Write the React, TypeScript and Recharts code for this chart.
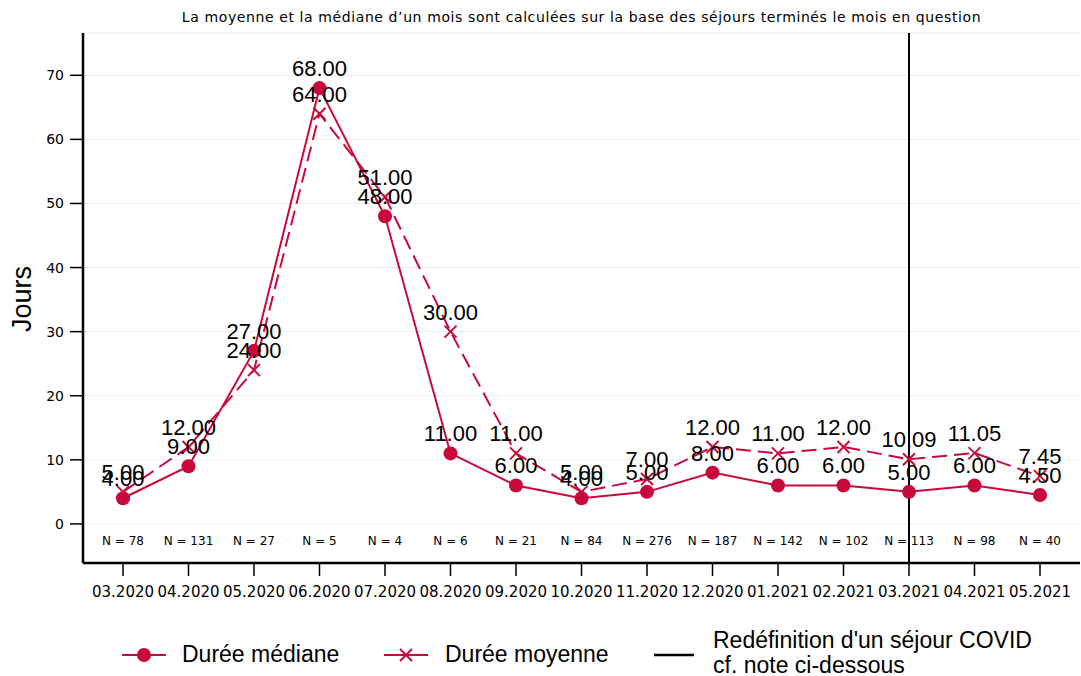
import React from "react";
import {
  LineChart,
  Line,
  XAxis,
  YAxis,
  CartesianGrid,
  ReferenceLine,
  LabelList,
} from "recharts";

const months = [
  "03.2020", "04.2020", "05.2020", "06.2020", "07.2020", "08.2020", "09.2020", "10.2020",
  "11.2020", "12.2020", "01.2021", "02.2021", "03.2021", "04.2021", "05.2021",
];
const medianDays = [4, 9, 27, 68, 48, 11, 6, 4, 5, 8, 6, 6, 5, 6, 4.5];
const meanDays = [5, 12, 24, 64, 51, 30, 11, 5, 7, 12, 11, 12, 10.09, 11.05, 7.45];
const counts = [78, 131, 27, 5, 4, 6, 21, 84, 276, 187, 142, 102, 113, 98, 40];
const yTicks = [0, 10, 20, 30, 40, 50, 60, 70];
const covidMonth = "03.2021";

const RED = "#c8093b";
const FONT = "Liberation Sans, Arial, sans-serif";
const SMALL = "DejaVu Sans, sans-serif";

const data = months.map((m, i) => ({
  month: m,
  median: medianDays[i],
  mean: meanDays[i],
  n: counts[i],
}));

// x-axis tick: month below the axis, sample size inside the plot
const MonthTick = (props: any) => {
  const { x, y, payload, index } = props;
  return (
    <g>
      <text x={x} y={y + 17} textAnchor="middle" fontSize={15} fill="#000" fontFamily={SMALL}>
        {payload.value}
      </text>
      <text x={x} y={y - 35} textAnchor="middle" fontSize={12} fill="#000" fontFamily={SMALL}>
        {`N = ${counts[index]}`}
      </text>
    </g>
  );
};

const CrossDot = (props: any) => {
  const { cx, cy } = props;
  if (cx == null || cy == null) return null;
  const s = 6;
  return (
    <g stroke={RED} strokeWidth={2}>
      <line x1={cx - s} y1={cy - s} x2={cx + s} y2={cy + s} />
      <line x1={cx - s} y1={cy + s} x2={cx + s} y2={cy - s} />
    </g>
  );
};

const fmt = (v: any) => Number(v).toFixed(2);

export default function App() {
  return (
    <div style={{ position: "relative", width: 1081, height: 676, background: "#fff", fontFamily: FONT }}>
      <style>{`body{margin:0}`}</style>
      <div
        style={{
          position: "absolute",
          top: 9,
          left: 83,
          width: 997,
          textAlign: "center",
          fontSize: 14,
          letterSpacing: 0.6,
          fontFamily: SMALL,
          color: "#000",
          whiteSpace: "nowrap",
        }}
      >
        La moyenne et la médiane d’un mois sont calculées sur la base des séjours terminés le mois en question
      </div>
      <LineChart
        width={1081}
        height={676}
        data={data}
        margin={{ top: 33, right: 1, left: 0, bottom: 83 }}
      >
        <CartesianGrid vertical={false} stroke="#ececec" strokeWidth={1} />
        <XAxis
          dataKey="month"
          type="category"
          padding={{ left: 40, right: 40 }}
          axisLine={{ stroke: "#000", strokeWidth: 2.5 }}
          tickLine={{ stroke: "#000", strokeWidth: 1.5 }}
          tickSize={13}
          tickMargin={4}
          height={30}
          interval={0}
          tick={<MonthTick />}
        />
        <XAxis
          xAxisId="top"
          orientation="top"
          dataKey="month"
          height={0}
          tick={false}
          tickLine={false}
          axisLine={{ stroke: "#000", strokeWidth: 1.5 }}
        />
        <YAxis
          domain={[-6.1, 76.6]}
          ticks={yTicks}
          allowDataOverflow
          width={83}
          axisLine={{ stroke: "#000", strokeWidth: 2.5 }}
          tickLine={{ stroke: "#000", strokeWidth: 1.5 }}
          tickSize={13}
          tickMargin={6}
          tick={{ fontSize: 14, fill: "#000", fontFamily: SMALL }}
          label={{
            content: (p: any) => {
              const vb = p.viewBox;
              const cx = 31;
              const cy = 299;
              return (
                <text
                  x={cx}
                  y={cy}
                  transform={`rotate(-90 ${cx} ${cy})`}
                  textAnchor="middle"
                  fontSize={27}
                  fill="#000"
                  fontFamily={FONT}
                >
                  Jours
                </text>
              );
            },
          }}
        />
        <YAxis
          yAxisId="right"
          orientation="right"
          width={0}
          tick={false}
          tickLine={false}
          axisLine={{ stroke: "#888", strokeWidth: 1 }}
        />
        <ReferenceLine x={covidMonth} stroke="#000" strokeWidth={2} />
        <Line
          dataKey="median"
          stroke={RED}
          strokeWidth={2}
          dot={{ r: 7, fill: RED, stroke: RED, strokeWidth: 0 }}
          isAnimationActive={false}
        >
          <LabelList
            dataKey="median"
            position="top"
            offset={12}
            formatter={fmt}
            style={{ fontSize: 22, fill: "#000", fontFamily: FONT }}
          />
        </Line>
        <Line
          dataKey="mean"
          stroke={RED}
          strokeWidth={2}
          strokeDasharray="15 7"
          dot={<CrossDot />}
          isAnimationActive={false}
        >
          <LabelList
            dataKey="mean"
            position="top"
            offset={12}
            formatter={fmt}
            style={{ fontSize: 22, fill: "#000", fontFamily: FONT }}
          />
        </Line>
      </LineChart>
      <div
        style={{
          position: "absolute",
          top: 630,
          left: 0,
          width: 1081,
          height: 46,
          fontSize: 23,
          lineHeight: "25px",
          color: "#000",
        }}
      >
        <svg width={44} height={20} style={{ position: "absolute", left: 122, top: 15 }}>
          <line x1={0} y1={10} x2={44} y2={10} stroke={RED} strokeWidth={2} />
          <circle cx={22} cy={10} r={7} fill={RED} />
        </svg>
        <div style={{ position: "absolute", left: 182, top: 12, whiteSpace: "nowrap" }}>Durée médiane</div>
        <svg width={44} height={20} style={{ position: "absolute", left: 384, top: 15 }}>
          <line x1={0} y1={10} x2={44} y2={10} stroke={RED} strokeWidth={2} />
          <line x1={16} y1={4} x2={28} y2={16} stroke={RED} strokeWidth={2} />
          <line x1={16} y1={16} x2={28} y2={4} stroke={RED} strokeWidth={2} />
        </svg>
        <div style={{ position: "absolute", left: 445, top: 12, whiteSpace: "nowrap" }}>Durée moyenne</div>
        <svg width={40} height={20} style={{ position: "absolute", left: 654, top: 15 }}>
          <line x1={0} y1={10} x2={40} y2={10} stroke="#000" strokeWidth={2.5} />
        </svg>
        <div style={{ position: "absolute", left: 713, top: -2, whiteSpace: "nowrap" }}>
          Redéfinition d'un séjour COVID
          <br />
          cf. note ci-dessous
        </div>
      </div>
    </div>
  );
}
